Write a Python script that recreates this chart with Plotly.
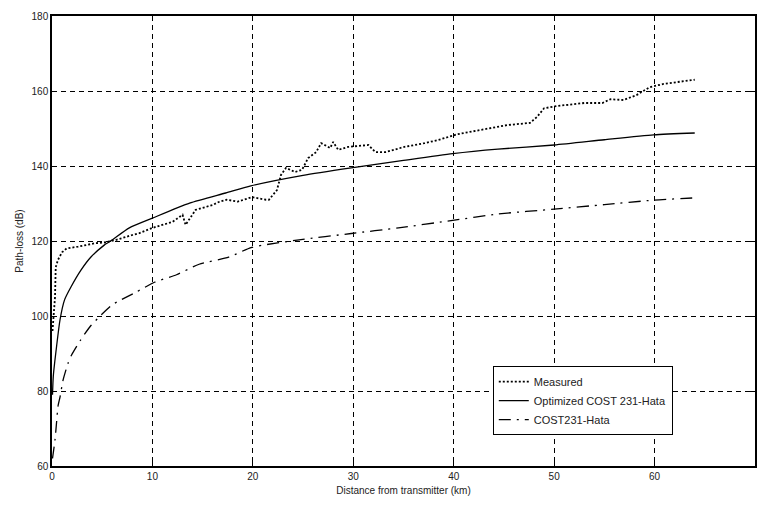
import plotly.graph_objects as go

# Measured path loss (dotted)
meas_x = [0.05, 0.15, 0.3, 0.37, 0.6, 1.0, 1.45, 2.6, 4.3, 5.2, 5.9, 6.4, 8.0, 8.7, 10.0, 12.0, 13.0, 13.3, 14.3,
          16.0, 16.6, 17.4, 18.5, 19.9, 21.3, 21.6, 22.4, 22.8, 23.3, 24.2, 24.9, 25.5, 26.3, 26.8, 27.7, 28.0,
          28.5, 29.5, 31.5, 32.2, 33.2, 35.1, 37.1, 38.4, 40.4, 42.7, 44.4, 45.3, 47.6, 48.3, 49.0, 50.3, 53.0,
          54.8, 55.6, 56.9, 58.2, 59.5, 60.9, 63.5, 64.0]
meas_y = [96, 100, 105, 113, 115, 117, 118, 118.5, 119.4, 119.6, 120, 120.3, 121.6, 122.1, 123.5, 125.1, 127, 124.3, 128.3,
          129.6, 130.4, 131, 130.5, 131.7, 131, 131, 133.6, 137.6, 139.5, 138.4, 139, 142.1, 143.7, 146.1, 144.8, 146.4,
          144.3, 145.1, 145.6, 143.7, 143.7, 145.1, 146.1, 146.9, 148.5, 149.6, 150.4, 150.9, 151.5, 153.1, 155.4, 156, 156.8,
          156.8, 157.8, 157.6, 158.9, 161, 161.9, 162.7, 163]

# Optimized COST 231-Hata (solid)
opt_x = [0.05, 0.13, 0.46, 0.8, 1.25, 1.9, 2.9, 3.9, 5.2, 6.0, 7.7, 10.0, 13.7, 17.3, 19.8, 25.0, 29.8, 35.0,
         39.9, 44.4, 50.0, 55.0, 59.9, 64.0]
opt_y = [79, 84, 92, 99, 104.3, 107.8, 112.3, 115.8, 118.9, 120.3, 123.5, 126.1, 130.1, 132.8, 134.7, 137.5, 139.5, 141.5,
         143.3, 144.5, 145.6, 147, 148.3, 148.8]

# COST231-Hata (dash-dot)
cost_x = [0.05, 0.3, 0.45, 0.6, 0.8, 1.1, 1.6, 1.95, 2.8, 3.8, 4.9, 6.0, 8.4, 10.2, 12.4, 14.65, 17.6, 19.9,
          24.6, 29.8, 34.5, 39.9, 44.4, 50.0, 55.0, 59.9, 64.0]
cost_y = [62, 67, 71.5, 76, 78.4, 82.9, 87.4, 89.6, 93.4, 97.2, 100.3, 103, 106.4, 109, 111, 113.8, 115.7, 118.3,
          120.3, 122, 123.5, 125.5, 127.2, 128.5, 129.7, 130.9, 131.5]

x_ticks = [0, 10, 20, 30, 40, 50, 60, 70]
y_ticks = [60, 80, 100, 120, 140, 160, 180]

FONT = "Liberation Sans, Arial, sans-serif"

fig = go.Figure()
fig.add_trace(go.Scatter(x=meas_x, y=meas_y, mode="lines", name="Measured",
                         line=dict(color="black", width=1.8, dash="2px,2px")))
fig.add_trace(go.Scatter(x=opt_x, y=opt_y, mode="lines", name="Optimized COST 231-Hata",
                         line=dict(color="black", width=1.3, shape="spline", smoothing=0.6)))
fig.add_trace(go.Scatter(x=cost_x, y=cost_y, mode="lines", name="COST231-Hata",
                         line=dict(color="black", width=1.3, dash="12px,6px,2px,6px", shape="spline", smoothing=0.6)))

axis_common = dict(
    showline=True, linecolor="black", linewidth=1.5, mirror="ticks",
    ticks="inside", ticklen=5, tickcolor="black", tickwidth=1,
    showgrid=True, gridcolor="black", gridwidth=1, griddash="5px,4px",
    zeroline=False, tickfont=dict(family=FONT, size=10, color="#222"),
)

fig.update_xaxes(range=[0, 70], tickvals=x_ticks, ticktext=[str(v) for v in x_ticks],
                 title=dict(text="Distance from transmitter (km)", font=dict(family=FONT, size=10, color="#222"),
                            standoff=6),
                 **axis_common)
fig.update_yaxes(range=[60, 180], tickvals=y_ticks, ticktext=[str(v) for v in y_ticks],
                 title=dict(text="Path-loss (dB)", font=dict(family=FONT, size=10, color="#222"), standoff=6),
                 **axis_common)

fig.update_layout(
    width=758, height=513,
    margin=dict(l=52, r=1, t=16, b=47),
    paper_bgcolor="white", plot_bgcolor="white",
    showlegend=True,
    legend=dict(x=0.627, y=0.222, xanchor="left", yanchor="top",
                bgcolor="white", bordercolor="black", borderwidth=1,
                font=dict(family=FONT, size=11, color="#222"),
                itemwidth=30, tracegroupgap=0),
)

fig.write_html("out.html")
